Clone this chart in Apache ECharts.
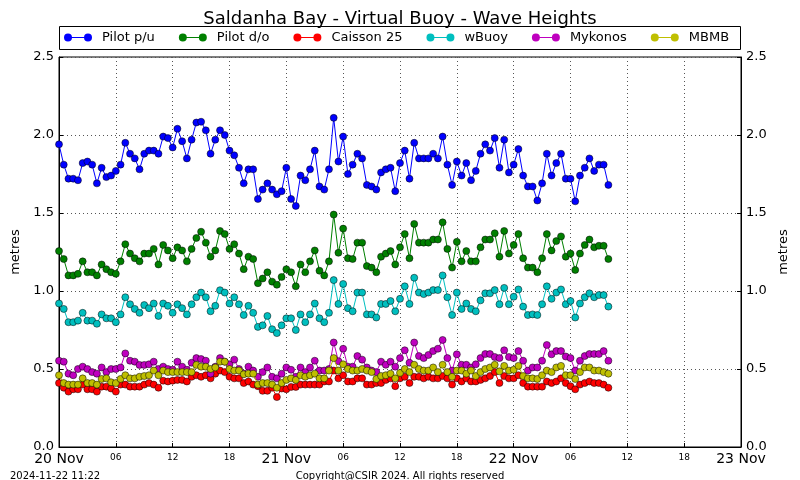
<!DOCTYPE html>
<html><head><meta charset="utf-8">
<script src="https://cdn.jsdelivr.net/npm/echarts@6/dist/echarts.min.js"></script>
<style>html,body{margin:0;padding:0;background:#fff}#c{width:800px;height:480px}</style>
</head><body><div id="c"></div><script>
// Time axis: half-hourly samples from 20 Nov 2024 00:00 (hours since start)
const sampleStepHours = 0.5;
const xTickLabels = ['20 Nov','06','12','18','21 Nov','06','12','18','22 Nov','06','12','18','23 Nov'];
const seriesNames = ['Pilot p/u','Pilot d/o','Caisson 25','wBuoy','Mykonos','MBMB'];
const seriesColors = ['#0000ff','#008000','#ff0000','#00bfbf','#bf00bf','#bfbf00'];

const pilotPU = [1.94,1.81,1.72,1.72,1.71,1.82,1.83,1.81,1.69,1.79,
1.73,1.74,1.77,1.81,1.95,1.88,1.85,1.78,1.88,1.90,
1.90,1.88,1.99,1.98,1.92,2.04,1.96,1.85,1.97,2.08,
2.085,2.03,1.88,1.97,2.03,2.00,1.90,1.87,1.79,1.69,
1.78,1.78,1.59,1.65,1.69,1.65,1.62,1.64,1.79,1.59,
1.545,1.74,1.71,1.78,1.90,1.67,1.65,1.78,2.11,1.83,
1.99,1.75,1.81,1.88,1.85,1.68,1.67,1.65,1.76,1.78,
1.79,1.64,1.82,1.90,1.72,1.95,1.85,1.85,1.85,1.88,
1.85,1.99,1.81,1.68,1.83,1.74,1.82,1.71,1.77,1.88,
1.94,1.90,1.98,1.79,1.97,1.76,1.81,1.91,1.74,1.67,
1.67,1.58,1.69,1.88,1.74,1.82,1.88,1.72,1.72,1.575,
1.74,1.79,1.85,1.77,1.81,1.81,1.68];

const pilotDO = [1.256,1.205,1.10,1.10,1.11,1.19,1.12,1.12,1.10,1.17,
1.14,1.12,1.11,1.19,1.30,1.24,1.21,1.19,1.24,1.24,
1.27,1.17,1.295,1.26,1.21,1.28,1.26,1.19,1.27,1.34,
1.38,1.31,1.22,1.26,1.385,1.365,1.27,1.30,1.24,1.14,
1.22,1.205,1.05,1.08,1.12,1.06,1.04,1.09,1.14,1.12,
1.03,1.17,1.12,1.19,1.26,1.13,1.10,1.19,1.49,1.245,
1.40,1.21,1.205,1.31,1.31,1.16,1.15,1.12,1.22,1.24,
1.256,1.17,1.28,1.365,1.21,1.43,1.31,1.31,1.31,1.33,
1.33,1.44,1.27,1.15,1.315,1.19,1.256,1.19,1.19,1.28,
1.33,1.33,1.37,1.22,1.385,1.24,1.295,1.365,1.21,1.15,
1.15,1.12,1.21,1.365,1.26,1.32,1.35,1.22,1.24,1.135,
1.24,1.295,1.33,1.28,1.29,1.29,1.205];

const caisson25 = [0.41,0.38,0.355,0.37,0.37,0.40,0.37,0.37,0.355,0.387,
0.387,0.375,0.355,0.40,0.40,0.387,0.387,0.387,0.40,0.41,
0.40,0.38,0.425,0.42,0.425,0.43,0.43,0.42,0.45,0.46,
0.45,0.46,0.44,0.47,0.49,0.48,0.45,0.44,0.44,0.41,
0.42,0.40,0.39,0.36,0.36,0.38,0.32,0.375,0.37,0.385,
0.385,0.40,0.40,0.40,0.40,0.40,0.42,0.42,0.49,0.44,
0.46,0.42,0.42,0.44,0.44,0.40,0.40,0.41,0.41,0.43,
0.44,0.39,0.44,0.45,0.41,0.45,0.45,0.44,0.45,0.44,
0.44,0.455,0.44,0.40,0.44,0.42,0.44,0.42,0.42,0.43,
0.44,0.455,0.48,0.41,0.455,0.44,0.44,0.46,0.41,0.387,
0.387,0.387,0.387,0.42,0.41,0.42,0.44,0.41,0.39,0.37,
0.40,0.41,0.42,0.41,0.41,0.40,0.38];

const wBuoy = [0.92,0.885,0.80,0.80,0.81,0.86,0.81,0.81,0.79,0.85,
0.825,0.825,0.80,0.85,0.96,0.915,0.885,0.86,0.91,0.89,
0.92,0.84,0.92,0.905,0.86,0.915,0.89,0.85,0.915,0.96,
0.99,0.96,0.87,0.905,1.005,0.99,0.92,0.96,0.915,0.846,
0.905,0.86,0.77,0.78,0.84,0.755,0.73,0.78,0.825,0.825,
0.75,0.85,0.80,0.85,0.92,0.825,0.80,0.86,1.07,0.917,
1.045,0.89,0.87,0.99,0.99,0.85,0.85,0.83,0.917,0.917,
0.936,0.87,0.95,1.03,0.917,1.085,0.99,0.98,0.99,1.006,
1.006,1.10,0.96,0.846,0.99,0.885,0.92,0.885,0.87,0.94,
0.985,0.985,1.006,0.915,1.02,0.915,0.963,1.01,0.90,0.846,
0.85,0.846,0.915,1.03,0.95,0.99,1.01,0.915,0.936,0.83,
0.92,0.96,0.985,0.96,0.974,0.974,0.90];

const mykonos = [0.553,0.547,0.47,0.46,0.50,0.515,0.50,0.48,0.47,0.51,
0.48,0.50,0.50,0.51,0.60,0.553,0.547,0.526,0.526,0.53,
0.547,0.50,0.515,0.50,0.495,0.547,0.515,0.495,0.54,0.57,
0.564,0.553,0.47,0.515,0.57,0.547,0.53,0.56,0.50,0.47,
0.515,0.49,0.45,0.48,0.51,0.45,0.44,0.47,0.51,0.495,
0.45,0.51,0.48,0.51,0.553,0.49,0.49,0.50,0.67,0.55,
0.63,0.515,0.515,0.583,0.56,0.51,0.49,0.48,0.547,0.527,
0.547,0.515,0.57,0.62,0.54,0.67,0.583,0.57,0.59,0.615,
0.63,0.686,0.57,0.49,0.594,0.527,0.527,0.51,0.53,0.57,
0.596,0.596,0.577,0.57,0.62,0.577,0.57,0.615,0.553,0.49,
0.51,0.51,0.553,0.654,0.594,0.615,0.615,0.58,0.57,0.49,
0.553,0.583,0.596,0.596,0.596,0.615,0.553];

const mbmb = [0.46,0.41,0.40,0.40,0.40,0.44,0.41,0.41,0.40,0.436,
0.44,0.415,0.41,0.436,0.46,0.44,0.44,0.45,0.455,0.46,
0.49,0.46,0.49,0.48,0.48,0.48,0.48,0.48,0.48,0.526,
0.515,0.515,0.50,0.51,0.547,0.547,0.50,0.49,0.49,0.466,
0.47,0.47,0.40,0.41,0.41,0.40,0.38,0.41,0.43,0.44,
0.43,0.46,0.45,0.46,0.47,0.44,0.44,0.49,0.57,0.49,
0.53,0.50,0.49,0.49,0.50,0.49,0.48,0.436,0.455,0.46,
0.47,0.44,0.475,0.50,0.48,0.527,0.50,0.49,0.49,0.51,
0.48,0.527,0.48,0.45,0.49,0.49,0.47,0.49,0.455,0.48,
0.50,0.51,0.527,0.485,0.52,0.49,0.495,0.52,0.455,0.44,
0.44,0.436,0.46,0.49,0.48,0.51,0.52,0.46,0.46,0.436,
0.48,0.51,0.51,0.49,0.49,0.48,0.47];

const allValues = [pilotPU, pilotDO, caisson25, wBuoy, mykonos, mbmb];
const FONT = 'DejaVu Sans';

const legendIcon = 'path://M0,4A4,4 0 1,1 8,4A4,4 0 1,1 0,4Z M20,4A4,4 0 1,1 28,4A4,4 0 1,1 20,4Z M4,3.5H24V4.5H4Z';

const series = seriesNames.map((name, k) => ({
  name: name,
  type: 'line',
  data: allValues[k].map((v, i) => [i * sampleStepHours, v]),
  symbol: 'circle',
  symbolSize: 7,
  showSymbol: true,
  lineStyle: { color: seriesColors[k], width: 1 },
  itemStyle: { color: seriesColors[k], borderColor: '#000', borderWidth: 0.5 },
  emphasis: { disabled: true },
  z: 2 + k
}));

const yAxisCommon = {
  type: 'value', min: 0, max: 2.5, interval: 0.5,
  name: 'metres', nameLocation: 'middle', nameRotate: 90,
  nameTextStyle: { fontFamily: FONT, fontSize: 13, color: '#000' },
  axisLine: { show: true, lineStyle: { color: '#000', width: 1 } },
  axisTick: { show: true, inside: true, length: 4, lineStyle: { color: '#000' } },
  axisLabel: { fontFamily: FONT, fontSize: 13, color: '#000', margin: 5, formatter: v => v.toFixed(1) },
  splitLine: { show: true, lineStyle: { color: '#555', type: [1, 3], width: 1 } }
};

const chart = echarts.init(document.getElementById('c'), null, { renderer: 'canvas' });
chart.setOption({
  animation: false,
  backgroundColor: '#fff',
  title: {
    text: 'Saldanha Bay - Virtual Buoy - Wave Heights',
    left: 'center', top: 5,
    textStyle: { fontFamily: FONT, fontSize: 18, fontWeight: 'normal', color: '#000' }
  },
  legend: {
    left: 64, top: 31, padding: 0, itemGap: 24, itemWidth: 28, itemHeight: 8,
    icon: legendIcon,
    itemStyle: { borderWidth: 0 },
    textStyle: { fontFamily: FONT, fontSize: 13, color: '#000', padding: [0, 0, 0, 5] },
    data: seriesNames
  },
  grid: { left: 59, right: 59, top: 57, bottom: 33, show: true, borderColor: '#000', borderWidth: 1, backgroundColor: 'transparent' },
  xAxis: {
    type: 'value', min: 0, max: 72, interval: 6,
    axisLine: { show: true, lineStyle: { color: '#000', width: 1 } },
    axisTick: { show: true, inside: true, length: 4, lineStyle: { color: '#000' } },
    axisLabel: {
      margin: 5, color: '#000',
      formatter: v => {
        const i = Math.round(v / 6);
        const t = xTickLabels[i];
        return (i % 4 === 0) ? '{big|' + t + '}' : '{small|' + t + '}';
      },
      rich: {
        big: { fontFamily: FONT, fontSize: 14, color: '#000' },
        small: { fontFamily: FONT, fontSize: 9, color: '#000', padding: [1, 0, 0, 0] }
      }
    },
    splitLine: { show: true, lineStyle: { color: '#555', type: [1, 3], width: 1 } }
  },
  yAxis: [
    Object.assign({}, yAxisCommon, { position: 'left', nameGap: 28 }),
    Object.assign({}, yAxisCommon, { position: 'right', nameGap: 29, splitLine: { show: false } })
  ],
  graphic: [
    { type: 'rect', shape: { x: 59.5, y: 26.5, width: 681, height: 23 },
      style: { fill: 'none', stroke: '#000', lineWidth: 1 }, silent: true, z: 100 },
    { type: 'text', left: 10, top: 471, style: { text: '2024-11-22 11:22', fontFamily: FONT, fontSize: 10, fill: '#000' } },
    { type: 'text', left: 'center', top: 471, style: { text: 'Copyright@CSIR 2024. All rights reserved', fontFamily: FONT, fontSize: 10, fill: '#000' } }
  ],
  series: series
});
</script></body></html>
